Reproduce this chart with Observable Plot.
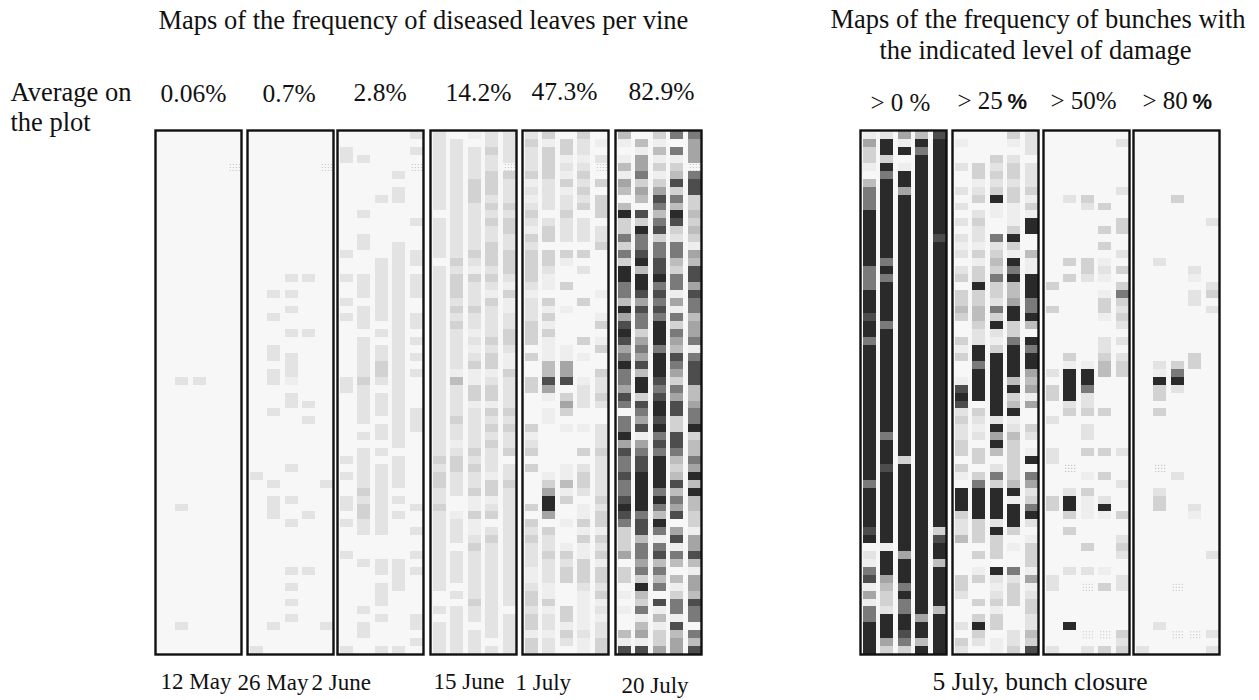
<!DOCTYPE html>
<html>
<head>
<meta charset="utf-8">
<script src="https://cdn.jsdelivr.net/npm/d3@7"></script>
<script src="https://cdn.jsdelivr.net/npm/@observablehq/plot@0.6"></script>
<style>
html,body{margin:0;padding:0;background:#fff;}
#fig{position:relative;width:1259px;height:700px;overflow:hidden;}
#fig svg{position:absolute;background:transparent;}
</style>
</head>
<body>
<div id="fig"></div>
<script>
const zero = "0000000000 0000000000 0000000000 0000000000 0000000000 0000000000 000000";
// Frequency class per column (five vine rows), one character per row; x = no data
const may12 = [zero,
 "0000000000 0000000000 0000000000 0200000000 0000000200 0000000000 002000",
 "0000000000 0000000000 0000000000 0200000000 0000000000 0000000000 000000",
 zero,
 "0000x00000 0000000000 0000000000 0000000000 0000000000 0000000000 000000"];
const may26 = [
 "0000000000 0000000000 0000000000 0000000000 0002000000 0000000000 000002",
 "0000000000 0000000000 2002000220 2200020000 0000202220 0000000000 002000",
 "0000000000 0000000020 2020020022 2102200000 0020002002 0000020202 020000",
 "0000000000 0000000020 0000020000 0000202000 0000000020 0000020000 000000",
 "0000x00000 0000000000 0000000000 0000000000 0000200000 0000000000 002000"];
const june2 = [
 "0022000000 0000020020 0202000000 0220000000 0202002202 0002000000 000002",
 "0002000000 2002200022 2022202222 2322222020 2222232332 2000200000 202200",
 "0000000020 0000002222 2222020223 3202220220 2022222222 2000220222 020002",
 "0000020220 0000222222 2222222222 2222222222 0222202020 0000222200 000002",
 "2020x00000 0200022022 2002202020 2000022200 0000000200 2002020000 022020"];
const june15 = [
 "2222222222 0222220222 2222222222 2222222222 2323322322 2222222200 202222",
 "0222222222 2222223233 3232322222 1422223221 2332220012 2202222020 222222",
 "1022223332 2222232132 2232212123 1133122222 3232231131 1232222223 220222",
 "2232233323 2322333232 1322223233 1233132323 2221331230 2322222222 222202",
 "2222x32223 2332233321 3112233211 3222232322 3022322222 2222222222 022222"];
const july1 = [
 "2322231212 3213233332 1222333030 0330000312 3030000303 2322211233 233133",
 "3133332222 0233033211 0313131114 4751011000 0001358850 3223222113 122122",
 "0331213122 3222031003 0010000115 5703530100 0011413001 0013233000 331320",
 "3221232323 0222030200 0300003010 0122200100 3023320113 1311333211 111211",
 "0102x03033 3022300000 1001301300 3223200222 3222223233 1323133231 212233"];
const july20 = [
 "4101415404 8336363886 6485787568 6657606685 7667667876 3335033010 100417",
 "0415563540 7386678488 7576635657 4883765715 6778888867 7466563843 614517",
 "3141313576 4673667786 7676888688 8767887867 6888868648 6167464607 141335",
 "6061347364 8732664366 1516365476 5365773377 6434746570 5716404136 617455",
 "6555x67733 4343154775 7664556167 7744566834 4658484433 1557415547 660647"];
const damage0 = [
 "1533104666 8888888666 8887886888 8888888888 8888688888 7802167151 668888",
 "2883868888 8888886868 8888688888 8888888868 8878888888 8818885433 288853",
 "5180188588 8888888888 8888888888 8888888888 8388888888 8885888686 688763",
 "4868888888 8888888888 8888888888 8888888888 8888888888 8888888888 858848",
 "7888888888 8887888888 8888888888 8888888888 8888888888 3788488888 488888"];
const damage25 = [
 "0100200202 0202120230 3343003130 0178723223 3031088832 2400003320 002032",
 "0000331230 2322131338 3344322886 8888032120 3303688883 3303013003 038320",
 "0003232381 1006234363 3263821388 8888882858 4026388882 8333082123 133011",
 "3102332331 1138318684 4588336888 8483481243 3333481888 3010062333 000223",
 "2220222313 1880041188 8668408688 5451500320 1806523682 0133315123 322437"];
const damage50 = [
 "0000000000 0000000003 0030000000 2033002000 2200003300 0000002200 000002",
 "0000000020 0000003030 0000000031 8888230000 00x0028830 3000020000 008000",
 "0000000032 0000003320 0000000001 8862230220 3001031110 0030020x00 000x02",
 "0000000003 0030301210 1331002234 4000030000 3003002810 0000010300 000x03",
 "0200000200 0330020303 6323202023 3000000000 2000200030 0232002200 000323"];
const damage80 = [
 "0000000000 0000000000 0000000000 0000000000 0000000000 0000000000 000002",
 "0000000000 0000002000 0000000002 1833030000 00x0023300 0000000000 002000",
 "0000000030 0000000000 0000000003 6820000000 0002000000 0000000x00 000x00",
 "0000000000 0000000210 2200000033 0000000000 0000000210 0000000000 000x00",
 "0000000000 0200000002 3020000000 0000000000 0000000000 0002000000 000202"];

const panels = [may12, may26, june2, june15, july1, july20, damage0, damage25, damage50, damage80];
const classes = [0,1,2,3,4,5,6,7,8];
const greys = ["#f7f7f7","#eeeeee","#e3e3e3","#d2d2d2","#bdbdbd","#a5a5a5","#7a7a7a","#4d4d4d","#2a2a2a"];
const columns = [1,2,3,4,5];
const rows = d3.range(66);

const titles = ["Maps of the frequency of diseased leaves per vine","Maps of the frequency of bunches with","the indicated level of damage"];
const sideLabel = ["Average on","the plot"];
const averages = ["0.06%","0.7%","2.8%","14.2%","47.3%","82.9%"];
const damageLevels = ["> 0 %","> 25","> 50%","> 80"];
const dates = ["12 May","26 May","2 June","15 June","1 July","20 July"];
const stageLabel = "5 July, bunch closure";

// layout
const boxLeft = [154.7,246.7,336.7,429.7,522.3,615.3,860.3,952,1043.3,1133];
const fig = document.getElementById("fig");

panels.forEach((cols, p) => {
  const cells = cols.flatMap((s, c) => Array.from(s.replace(/ /g,""), (v, r) => ({col: columns[c], row: rows[r], v})));
  const present = cells.filter(d => d.v !== "x").map(d => ({...d, v: +d.v}));
  const missing = cells.filter(d => d.v === "x");
  const dotMarks = [-4.5,-1.5,1.5,4.5].flatMap(dx => [-3,0,3].map(dy =>
    Plot.dot(missing, {x:"col", y:"row", r:0.55, fill:"#b4b4b4", stroke:null, dx, dy})));
  const svg = Plot.plot({
    width: 90, height: 528,
    marginTop: 2, marginBottom: 2, marginLeft: 2, marginRight: 2,
    style: {background:"transparent"},
    x: {type:"band", domain: columns, range:[5, 87.5], paddingInner:0.28, paddingOuter:0, round:false, axis:null},
    y: {type:"band", domain: rows, range:[3.3, 526], padding:0, round:false, axis:null},
    color: {type:"ordinal", domain: classes, range: greys},
    marks: [
      Plot.frame({fill:"#f7f7f7", stroke:null}),
      Plot.cell(present, {x:"col", y:"row", fill:"v", shapeRendering:"crispEdges"}),
      ...dotMarks,
      Plot.frame({stroke:"#111", strokeWidth:2.4})
    ]
  });
  svg.style.left = (boxLeft[p]-2) + "px";
  svg.style.top = "127.7px";
  fig.appendChild(svg);
});

const large = [
  {text:titles[0], x:158, y:28},
  {text:titles[1], x:830, y:27},
  {text:titles[2], x:879, y:58},
  {text:sideLabel[0], x:10, y:100},
  {text:sideLabel[1], x:10, y:130}
];
const medium = [
  ...averages.map((text,i)=>({text, x:[160,262,353,445,531,628][i], y:[101,101,100,100,99,99][i]})),
  {text:stageLabel, x:932, y:689}
];
const levelLabels = damageLevels.map((text,i)=>({text, x:[870,957,1050,1142][i], y:[110,108,108,108][i]}));
const small = dates.map((text,i)=>({text, x:[160,237,311,433,515,621][i], y:[688,689,689,688,689,692][i]}));
const boldPercent = [{text:"%", x:1007, y:108},{text:"%", x:1192, y:108}];
const serif = (data, fontSize) => Plot.text(data,{x:"x",y:"y",text:"text",textAnchor:"start",lineAnchor:"bottom",fontFamily:"Liberation Serif",fontSize,fill:"#111"});
const overlay = Plot.plot({
  width:1259, height:700, margin:0,
  style:{background:"transparent"},
  x:{domain:[0,1259], range:[0,1259], axis:null},
  y:{domain:[0,700], range:[0,700], axis:null},
  marks:[
    serif(large,26.5),
    serif(medium,25.5),
    serif(levelLabels,25),
    serif(small,23),
    Plot.text(boldPercent,{x:"x",y:"y",text:"text",textAnchor:"start",lineAnchor:"bottom",fontFamily:"Liberation Sans",fontWeight:"bold",fontSize:22,fill:"#111"})
  ]
});
overlay.style.left="0"; overlay.style.top="0";
fig.appendChild(overlay);
</script>
</body>
</html>
